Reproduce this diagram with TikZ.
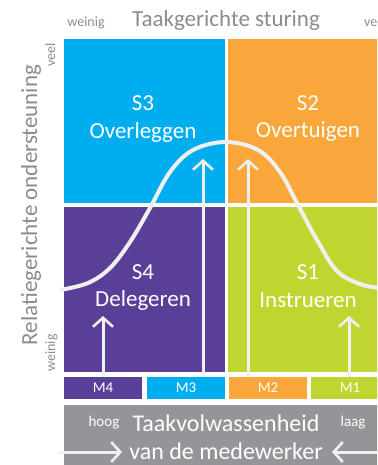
\documentclass[tikz,border=0pt]{standalone}
\usepackage{fontspec}
\setmainfont{Carlito}
\usetikzlibrary{arrows.meta}
\definecolor{cblue}{HTML}{00AEEF}
\definecolor{corange}{HTML}{F9A63A}
\definecolor{cpurple}{HTML}{5A3F98}
\definecolor{cgreen}{HTML}{C1D530}
\definecolor{cgray}{HTML}{939598}
\definecolor{ctext}{HTML}{8C8C8C}
\definecolor{cwhite}{HTML}{F0F0F0}
\tikzset{
  qlabel/.style={text=white,font=\fontsize{23}{23}\selectfont,inner sep=0pt},
  mlabel/.style={text=white,font=\fontsize{15}{15}\selectfont,inner sep=0pt},
  axis/.style={text=ctext,font=\fontsize{23}{23}\selectfont,inner sep=0pt},
  small/.style={text=ctext,font=\fontsize{14}{14}\selectfont,inner sep=0pt},
  wsmall/.style={text=white,font=\fontsize{15}{15}\selectfont,inner sep=0pt},
  wbig/.style={text=white,font=\fontsize{24}{24}\selectfont,inner sep=0pt},
  uparrow/.style={draw=cwhite,line width=3pt,-{Straight Barb[length=9pt,width=20pt,line width=2.6pt]}},
  curve/.style={draw=cwhite,line width=4pt}
}
\begin{document}
\begin{tikzpicture}[x=1pt,y=-1pt]
\useasboundingbox (0,0) rectangle (377,465);
\clip (0,0) rectangle (377,465);
% quadrants
\fill[cblue] (64,39) rectangle (225,203);
\fill[corange] (228,39) rectangle (390,203);
\fill[cpurple] (64,207) rectangle (225,372);
\fill[cgreen] (228,207) rectangle (390,372);
% M row
\fill[cpurple] (64,377) rectangle (142,399);
\fill[cblue] (147,377) rectangle (225,399);
\fill[corange] (229,377) rectangle (307,399);
\fill[cgreen] (311,377) rectangle (390,399);
\node[mlabel] (m4) at (103,388) {M4};
\node[mlabel] (m3) at (186,388) {M3};
\node[mlabel] (m2) at (268,388) {M2};
\node[mlabel] (m1) at (350,388) {M1};
% gray bar
\fill[cgray] (64,405) rectangle (390,470);
% curve
\draw[curve] plot[smooth,tension=0.6] coordinates {(60,290) (88,283) (110,268) (130,242) (150,208) (170,172) (193,150) (226,142) (258,150) (280,172) (298,205) (317,240) (337,271) (360,284) (380,288)};
% up arrows
\coordinate (a1s) at (103,377); \coordinate (a1e) at (103,316);
\coordinate (a2s) at (203,377); \coordinate (a2e) at (203,159);
\coordinate (a3s) at (248,377); \coordinate (a3e) at (248,159);
\coordinate (a4s) at (349,377); \coordinate (a4e) at (349,316);
\draw[uparrow] (a1s) -- (a1e);
\draw[uparrow] (a2s) -- (a2e);
\draw[uparrow] (a3s) -- (a3e);
\draw[uparrow] (a4s) -- (a4e);
% quadrant labels
\node[qlabel] (s3) at (143,103) {S3};
\node[qlabel] (s3t) at (143,132) {Overleggen};
\node[qlabel] (s2) at (308,103) {S2};
\node[qlabel] (s2t) at (308,132) {Overtuigen};
\node[qlabel] (s4) at (143,272) {S4};
\node[qlabel] (s4t) at (143,300) {Delegeren};
\node[qlabel] (s1) at (308,272) {S1};
\node[qlabel] (s1t) at (308,300) {Instrueren};
% top axis
\node[axis,anchor=base] (top) at (226,27) {Taakgerichte sturing};
\node[small,anchor=base] (tw) at (86,27) {weinig};
\node[small,anchor=base west] (tv) at (364,27) {veel};
% left axis
\node[axis,rotate=90,anchor=base] (left) at (37,205) {Relatiegerichte ondersteuning};
\node[small,rotate=90,anchor=base] (lv) at (55,55) {veel};
\node[small,rotate=90,anchor=base] (lw) at (55,353) {weinig};
% bottom bar text
\node[wsmall,anchor=base] (hoog) at (104,426) {hoog};
\node[wsmall,anchor=base] (laag) at (353,426) {laag};
\node[wbig,anchor=base] (tv1) at (226,431) {Taakvolwassenheid};
\node[wbig,anchor=base] (tv2) at (226,459) {van de medewerker};
\coordinate (la) at (58,452); \coordinate (lb) at (122,452);
\coordinate (ra) at (385,452); \coordinate (rb) at (332,452);
\draw[uparrow] (la) -- (lb);
\draw[uparrow] (ra) -- (rb);
\end{tikzpicture}
\end{document}
